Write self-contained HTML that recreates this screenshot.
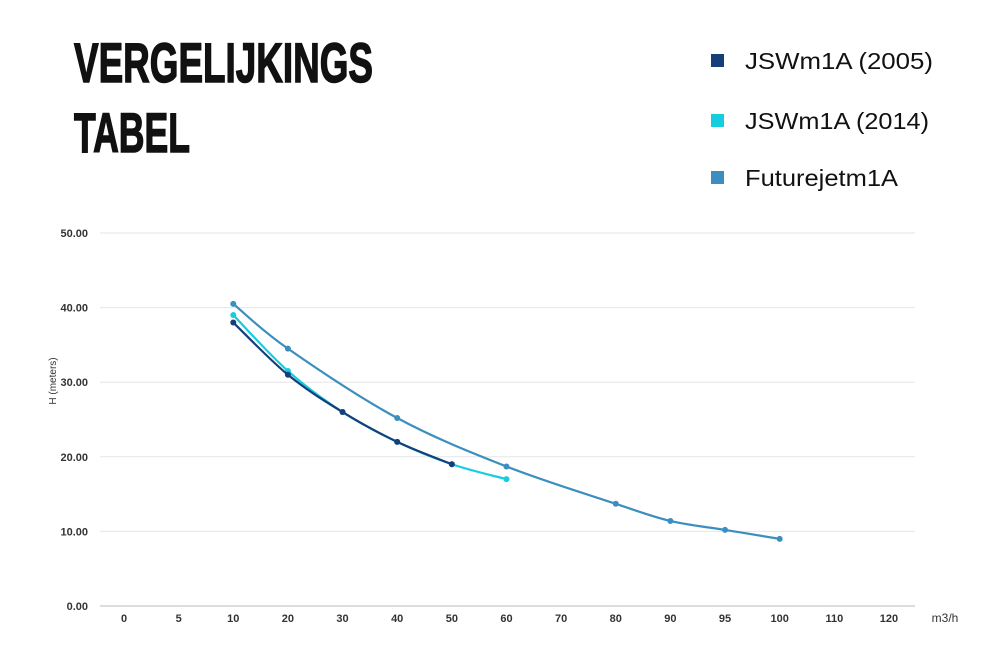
<!DOCTYPE html>
<html><head><meta charset="utf-8"><style>
html,body{margin:0;padding:0;background:#fff;}
svg{display:block;font-family:"Liberation Sans",sans-serif;}
</style></head><body>
<svg id="chart" width="1000" height="668" viewBox="0 0 1000 668">
<g>
<text x="74" y="82" font-family="'Liberation Sans Narrow','Liberation Sans',sans-serif" font-weight="bold" font-size="56" textLength="299" lengthAdjust="spacingAndGlyphs" fill="#111" stroke="#111" stroke-width="1.5">VERGELIJKINGS</text>
<text x="74" y="152" font-family="'Liberation Sans Narrow','Liberation Sans',sans-serif" font-weight="bold" font-size="56" textLength="116" lengthAdjust="spacingAndGlyphs" fill="#111" stroke="#111" stroke-width="1.5">TABEL</text>
</g>
<g id="legend"></g>
<g id="grid"></g>
<g id="axes"></g>
<g id="series"></g>
</svg>
<script>
const categories=["0","5","10","20","30","40","50","60","70","80","90","95","100","110","120"];
const yTicks=[0,10,20,30,40,50];
const seriesNames=["JSWm1A (2005)","JSWm1A (2014)","Futurejetm1A"];
const seriesColors=["#143f7a","#16cde0","#3a8fbf"];
const s2005=[null,null,38,31,26,22,19,null,null,null,null,null,null,null,null];
const s2014=[null,null,39,31.5,26,22,19,17,null,null,null,null,null,null,null];
const sFuture=[null,null,40.5,34.5,null,25.2,null,18.7,null,13.7,11.4,10.2,9,null,null];
const NS="http://www.w3.org/2000/svg";
const x0=124,dx=54.64,yBase=606,yTop=233,yMax=50;
function xs(i){return x0+i*dx;}
function ys(v){return yBase-(v/yMax)*(yBase-yTop);}
function mk(tag,attrs,parent){const e=document.createElementNS(NS,tag);for(const k in attrs)e.setAttribute(k,attrs[k]);parent.appendChild(e);return e;}
const grid=document.getElementById('grid'),axes=document.getElementById('axes'),ser=document.getElementById('series'),leg=document.getElementById('legend');
yTicks.forEach(v=>{
 const l=mk('line',{x1:100,x2:915,y1:ys(v),y2:ys(v),stroke:v===0?'#bbb':'#e6e6e6','stroke-width':1},grid);
 
 
 const t=mk('text',{x:88,y:ys(v)+4,'text-anchor':'end','font-size':11,'font-weight':'bold',fill:'#333'},axes);
 t.textContent=v.toFixed(2);
 
 
});
categories.forEach((c,i)=>{
 const t=mk('text',{x:xs(i),y:622,'text-anchor':'middle','font-size':11,'font-weight':'bold',fill:'#333'},axes);
 t.textContent=c;
 
 
});
const xt=mk('text',{x:945,y:622,'text-anchor':'middle','font-size':12,fill:'#333'},axes);
xt.textContent='m3/h';


const yt=mk('text',{x:0,y:0,'text-anchor':'middle','font-size':10,fill:'#333',transform:'translate(56,381) rotate(-90)'},axes);
yt.textContent='H (meters)';


function path(pts){
 let d='M'+pts[0][0]+','+pts[0][1];
 for(let i=0;i<pts.length-1;i++){
  const p0=pts[i-1]||pts[i],p1=pts[i],p2=pts[i+1],p3=pts[i+2]||p2;
  const c1=[p1[0]+(p2[0]-p0[0])/6,p1[1]+(p2[1]-p0[1])/6];
  const c2=[p2[0]-(p3[0]-p1[0])/6,p2[1]-(p3[1]-p1[1])/6];
  d+=' C'+c1[0]+','+c1[1]+' '+c2[0]+','+c2[1]+' '+p2[0]+','+p2[1];
 }
 return d;
}
function draw(vals,color,name){
 const g=mk('g',{},ser);
 
 
 const pts=[];vals.forEach((v,i)=>{if(v!==null)pts.push([xs(i),ys(v)]);});
 const p=mk('path',{d:path(pts),fill:'none',stroke:color,'stroke-width':2.2},g);
 
 
 pts.forEach(q=>{
  const c=mk('circle',{cx:q[0],cy:q[1],r:3,fill:color},g);
  
  
 });
}
draw(sFuture,seriesColors[2],'futurejet');
draw(s2014,seriesColors[1],'2014');
draw(s2005,seriesColors[0],'2005');
const legY=[61,121,178];
const legW=[188,184,153];
seriesNames.forEach((n,i)=>{
 const r=mk('rect',{x:711,y:legY[i]-7,width:13,height:13,fill:seriesColors[i]},leg);
 
 
 const t=mk('text',{x:745,y:legY[i]+8,'font-size':23,fill:'#111',textLength:legW[i],lengthAdjust:'spacingAndGlyphs'},leg);
 t.textContent=n;
 
 
});
</script>
</body></html>
